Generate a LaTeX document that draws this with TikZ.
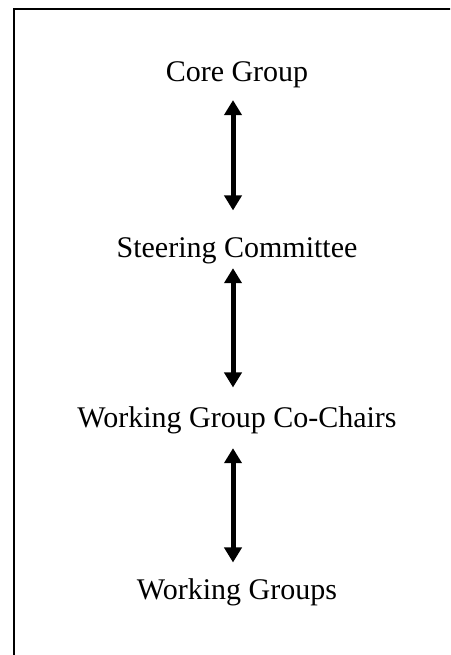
\documentclass[tikz,border=0pt]{standalone}
\usepackage{fontspec}
\setmainfont{Liberation Serif}
\usepackage{tikz}
\usetikzlibrary{arrows.meta, positioning}

\begin{document}
\begin{tikzpicture}[x=1pt, y=-1pt,
  level/.style={font=\fontsize{30}{36}\selectfont, inner sep=0pt, anchor=base},
  twoway/.style={{Triangle[width=17pt, length=15pt]}-{Triangle[width=17pt, length=15pt]}, line width=5pt}]
  \useasboundingbox (0,0) rectangle (450,655);
  \clip (0,0) rectangle (450,655);

  % Frame (cut off at right and bottom)
  \draw[line width=2pt] (13.5,9.5) rectangle (480,700);

  % Levels
  \node[level] (core) at (237,82) {Core Group};
  \node[level] (steer) at (237,257) {Steering Committee};
  \node[level] (chairs) at (237,427) {Working Group Co-Chairs};
  \node[level] (groups) at (237,599) {Working Groups};

  % Two-way links
  \draw[twoway, shorten <=11.5pt, shorten >=26.5pt] ([xshift=-4pt]core.south) -- ([xshift=-4pt]steer.north);
  \draw[twoway, shorten <=4.5pt, shorten >=18.5pt] ([xshift=-4pt]steer.south) -- ([xshift=-4pt]chairs.north);
  \draw[twoway, shorten <=14.5pt, shorten >=15.5pt] ([xshift=-4pt]chairs.south) -- ([xshift=-4pt]groups.north);
\end{tikzpicture}
\end{document}
